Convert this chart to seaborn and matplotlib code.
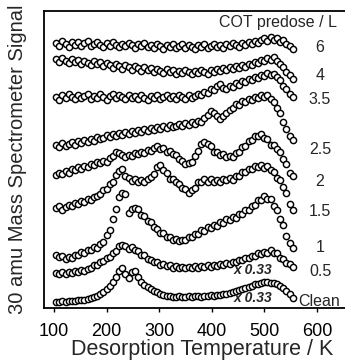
import matplotlib
matplotlib.use("Agg")
import matplotlib.pyplot as plt
import pandas as pd
import seaborn as sns

# Temperature ramp: one reading every 6 K
temperature = list(range(104, 555, 6))

doses = ["Clean", "0.5", "1", "1.5", "2", "2.5", "3.5", "4", "6"]

# Offset-stacked 30 amu desorption traces (arbitrary units)
clean = [6, 6, 7, 6, 7, 7, 7, 8, 8, 8, 9, 10, 11, 12, 14, 16, 19, 22, 26, 31,
         37, 40, 34, 30, 36, 37, 31, 26, 23, 21, 19, 17, 16, 14, 13, 12, 12, 11, 11, 12,
         11, 11, 12, 11, 12, 12, 11, 12, 12, 13, 12, 13, 13, 14, 14, 15, 16, 17, 18, 19,
         20, 21, 22, 24, 24, 25, 26, 26, 25, 25, 24, 22, 20, 17, 14, 10]
dose_0_5 = [35, 34, 36, 34, 36, 35, 37, 36, 38, 37, 39, 40, 43, 43, 46, 47, 50, 51, 55, 57,
            62, 63, 62, 59, 61, 58, 57, 53, 53, 49, 48, 46, 46, 43, 44, 42, 43, 40, 42, 40,
            41, 40, 41, 40, 42, 40, 42, 41, 43, 41, 43, 42, 44, 43, 45, 44, 46, 46, 48, 48,
            50, 50, 52, 52, 55, 54, 56, 55, 58, 55, 55, 50, 49, 45, 44, 41]
dose_1 = [53, 51, 52, 49, 51, 50, 53, 53, 56, 55, 58, 58, 61, 60, 64, 66, 73, 78, 89, 99,
          111, 115, 114, 95, 99, 100, 99, 93, 92, 87, 86, 81, 79, 75, 75, 71, 71, 68, 69, 67,
          68, 68, 71, 71, 74, 74, 78, 77, 81, 80, 83, 82, 86, 85, 89, 88, 91, 90, 94, 94,
          98, 98, 102, 103, 108, 108, 112, 109, 109, 102, 98, 89, 83, 72, 65, 60]
dose_1_5 = [100, 102, 98, 101, 103, 102, 105, 104, 107, 106, 109, 108, 111, 112, 114, 118, 119, 124, 126, 133,
            137, 139, 132, 130, 127, 129, 126, 128, 126, 129, 131, 134, 141, 143, 138, 135, 129, 129, 126, 124,
            120, 119, 115, 118, 120, 126, 126, 129, 126, 129, 126, 128, 126, 129, 128, 130, 128, 132, 132, 136,
            136, 139, 139, 142, 141, 143, 140, 142, 138, 136, 130, 128, 121, 115, 104, 98]
dose_2 = [133, 135, 134, 137, 135, 139, 138, 141, 139, 142, 141, 144, 143, 146, 145, 147, 146, 150, 152, 156,
          155, 153, 151, 153, 152, 155, 154, 156, 155, 158, 157, 160, 162, 159, 160, 156, 157, 154, 153, 149,
          147, 144, 145, 146, 152, 157, 164, 166, 164, 162, 156, 156, 153, 154, 151, 152, 151, 155, 156, 161,
          162, 167, 168, 172, 172, 174, 170, 169, 163, 163, 159, 156, 149, 144, 135, 132]
dose_2_5 = [163, 161, 165, 162, 164, 166, 163, 167, 165, 168, 166, 169, 167, 171, 169, 170, 173, 171, 174, 172,
            175, 173, 176, 174, 177, 175, 178, 176, 179, 177, 180, 178, 181, 179, 182, 180, 183, 181, 182, 184,
            182, 185, 183, 186, 184, 187, 186, 190, 193, 197, 195, 192, 189, 192, 195, 198, 200, 204, 203, 207,
            206, 209, 208, 211, 210, 213, 211, 213, 209, 206, 200, 195, 186, 179, 172, 168]
dose_3_5 = [211, 208, 213, 210, 214, 211, 209, 213, 210, 212, 214, 209, 212, 210, 214, 211, 208, 212, 214, 210,
            213, 211, 209, 213, 210, 212, 209, 213, 210, 208, 212, 210, 213, 209, 211, 213, 210, 212, 209, 213,
            211, 209, 213, 210, 212, 214, 213, 216, 215, 219, 218, 222, 224, 220, 219, 222, 221, 225, 223, 227,
            226, 229, 228, 231, 230, 233, 232, 235, 233, 234, 231, 228, 222, 219, 214, 211]
dose_4 = [249, 246, 250, 247, 245, 249, 246, 248, 244, 247, 245, 243, 247, 244, 246, 242, 245, 243, 240, 244,
          242, 239, 243, 241, 238, 242, 240, 237, 241, 238, 240, 236, 239, 237, 235, 239, 236, 238, 234, 237,
          235, 238, 236, 234, 237, 235, 238, 236, 234, 238, 236, 239, 237, 240, 238, 241, 239, 242, 240, 243,
          241, 244, 243, 246, 245, 248, 247, 250, 248, 251, 247, 244, 241, 236, 233, 229]
dose_6 = [265, 262, 267, 264, 261, 266, 263, 266, 262, 265, 267, 262, 264, 266, 263, 261, 265, 262, 266, 263,
          261, 264, 262, 265, 263, 260, 264, 262, 265, 261, 263, 260, 264, 262, 259, 263, 261, 264, 260, 262,
          264, 260, 263, 261, 259, 263, 261, 264, 260, 262, 264, 261, 263, 260, 264, 262, 265, 263, 261, 265,
          263, 266, 264, 267, 265, 268, 270, 267, 271, 268, 270, 266, 268, 264, 262, 259]

traces = [clean, dose_0_5, dose_1, dose_1_5, dose_2, dose_2_5, dose_3_5, dose_4, dose_6]

df = pd.concat(
    [pd.DataFrame({"T": temperature, "signal": vals, "dose": d})
     for d, vals in zip(doses, traces)],
    ignore_index=True,
)

sns.set_style("ticks")
plt.rcParams["font.family"] = ["Liberation Sans", "DejaVu Sans"]

fig = plt.figure(figsize=(3.45, 3.61), dpi=100)
ax = fig.add_axes([44 / 345, 53 / 361, 316 / 345, 297 / 361])

for d in doses:
    sub = df[df["dose"] == d]
    sns.scatterplot(data=sub, x="T", y="signal", ax=ax, marker="o", s=20,
                    facecolor="white", edgecolor="black", linewidth=1.05,
                    legend=False, zorder=3)

ax.set_xlim(81, 682)
ax.set_ylim(0, 297)
ax.set_xticks([100, 200, 300, 400, 500, 600])
ax.set_yticks([])
ax.tick_params(axis="x", direction="out", length=3, width=1, pad=8,
               labelsize=13, colors="black")
for side in ["left", "bottom", "top", "right"]:
    ax.spines[side].set_color("black")
    ax.spines[side].set_linewidth(1.3)

ax.set_xlabel("Desorption Temperature / K", fontsize=15.5, labelpad=-1)
ax.set_ylabel("30 amu Mass Spectrometer Signal", fontsize=14.5, labelpad=12)

# Dose labels at the right end of each trace
label_y = [7, 37, 61, 96, 127, 158, 208, 232, 260]
for d, y in zip(doses, label_y):
    if d == "Clean":
        ax.text(564, y, d, fontsize=11.5, ha="left", va="center")
    else:
        ax.text(606, y, d, fontsize=11.5, ha="center", va="center")

ax.text(414, 286, "COT predose / L", fontsize=11.5, ha="left", va="center")

# Scaling factor for the two lowest traces
for y in [38, 10]:
    ax.text(478, y, "x 0.33", fontsize=10, fontweight="bold", fontstyle="italic",
            ha="center", va="center")

fig.savefig("out.png", dpi=100)
